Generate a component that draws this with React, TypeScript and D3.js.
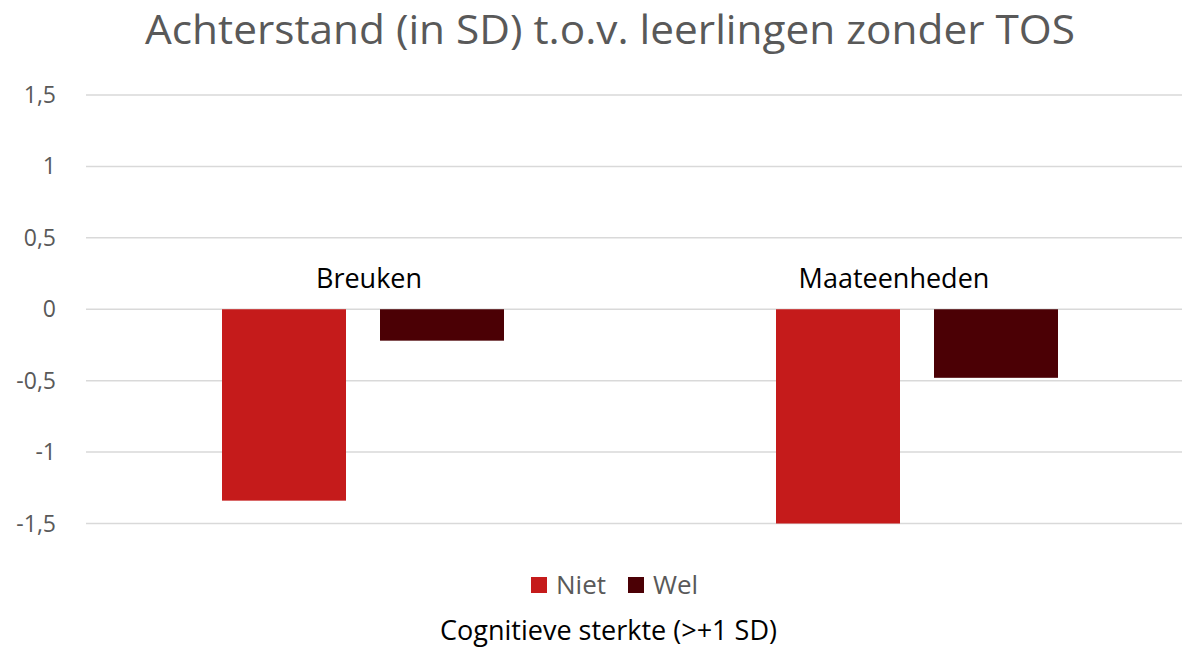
import React from "react";
import * as d3 from "d3";

const categories = ["Breuken", "Maateenheden"];
const seriesNames = ["Niet", "Wel"];
const niet = [-1.34, -1.5];
const wel = [-0.22, -0.48];
const yTicks = [1.5, 1, 0.5, 0, -0.5, -1, -1.5];
const labelNudge = [6, -23];

const colors: Record<string, string> = { Niet: "#C51B1B", Wel: "#4B0005" };
const FONT = "'Open Sans', sans-serif";

export default function App() {
  const W = 1182;
  const H = 649;
  const x = d3.scaleBand<string>().domain(categories).range([86, 1194]).paddingInner(0).paddingOuter(0);
  const y = d3.scaleLinear().domain([-1.5, 1.5]).range([523.5, 95]);
  const groupWidth = 282;
  const inner = d3.scaleBand<string>().domain(seriesNames).range([0, groupWidth]).paddingInner(34 / 158);
  const values: Record<string, number[]> = { Niet: niet, Wel: wel };
  const fmt = (v: number) => String(v).replace(".", ",");

  return (
    <svg width={W} height={H} style={{ position: "absolute", left: 0, top: 0, background: "#fff" }}>
      <rect x={0} y={0} width={W} height={H} fill="#fff" />
      <text x={610} y={44} textAnchor="middle" fontFamily={FONT} fontSize={40} fill="#595959"
        textLength={930} lengthAdjust="spacingAndGlyphs">
        Achterstand (in SD) t.o.v. leerlingen zonder TOS
      </text>
      {yTicks.map((t) => (
        <g key={t}>
          <line x1={86} x2={W} y1={y(t)} y2={y(t)} stroke="#d9d9d9" strokeWidth={1.5} />
          <text x={56} y={y(t) + 8} textAnchor="end" fontFamily={FONT} fontSize={23} fill="#595959">
            {fmt(t)}
          </text>
        </g>
      ))}
      {categories.map((c, i) => {
        const gx = (x(c) as number) + (x.bandwidth() - groupWidth) / 2;
        return (
          <g key={c}>
            {seriesNames.map((s) => {
              const v = values[s][i];
              const y0 = y(0);
              const y1 = y(v);
              return (
                <rect key={s} x={gx + (inner(s) as number)} width={inner.bandwidth()}
                  y={Math.min(y0, y1)} height={Math.abs(y1 - y0)} fill={colors[s]} />
              );
            })}
            <text x={(x(c) as number) + x.bandwidth() / 2 + labelNudge[i]} y={288} textAnchor="middle"
              fontFamily={FONT} fontSize={27} fill="#000">
              {c}
            </text>
          </g>
        );
      })}
      {seriesNames.map((s, i) => {
        const lx = 531 + i * 97;
        return (
          <g key={s}>
            <rect x={lx} y={577} width={16} height={16} fill={colors[s]} />
            <text x={lx + 25} y={594} fontFamily={FONT} fontSize={26} fill="#595959">{s}</text>
          </g>
        );
      })}
      <text x={608.5} y={640} textAnchor="middle" fontFamily={FONT} fontSize={27} fill="#000">
        Cognitieve sterkte (&gt;+1 SD)
      </text>
    </svg>
  );
}
